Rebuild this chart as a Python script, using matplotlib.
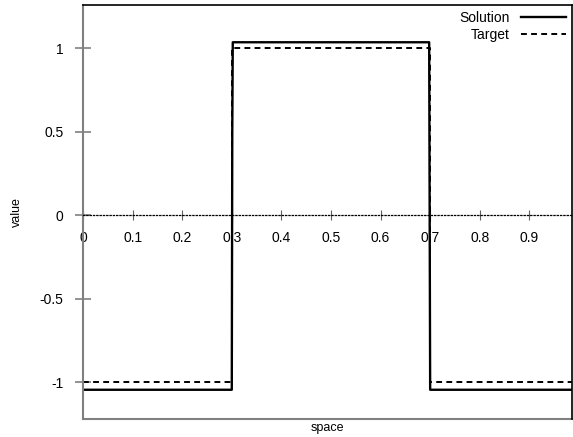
import matplotlib
matplotlib.use("Agg")
import matplotlib.pyplot as plt

plt.rcParams['font.family'] = ['Liberation Sans', 'DejaVu Sans']

# datos
sol_x = [0.0, 0.300, 0.301, 0.302, 0.698, 0.699, 0.700, 0.99]
sol_y = [-1.045, -1.045, 0.5, 1.035, 1.035, 0.0, -1.045, -1.045]
tgt_x = [0.0, 0.30, 0.30, 0.70, 0.70, 0.99]
tgt_y = [-1.0, -1.0, 1.0, 1.0, -1.0, -1.0]
xticks = [0, 0.1, 0.2, 0.3, 0.4, 0.5, 0.6, 0.7, 0.8, 0.9]
xticklabels = ['0', '0.1', '0.2', '0.3', '0.4', '0.5', '0.6', '0.7', '0.8', '0.9']
yticks = [-1, -0.5, 0, 0.5, 1]
yticklabels = ['-1', '-0.5', '0', '0.5', '1']

fig = plt.figure(figsize=(5.73, 4.37), dpi=100)
ax = fig.add_axes([83 / 573, 18 / 437, 489 / 573, 414 / 437])

ax.plot(tgt_x, tgt_y, color='black', lw=1.4, dashes=(3, 2.2), label='Target')
ax.plot(sol_x, sol_y, color='black', lw=1.7, label='Solution')

ax.set_xlim(0, 0.986)
ax.set_ylim(-1.22, 1.258)

# eje x sobre el cero, punteado
ax.spines['bottom'].set_position(('data', 0))
ax.spines['bottom'].set_linestyle(':')
ax.spines['bottom'].set_linewidth(0.9)
ax.spines['bottom'].set_color('black')
ax.plot([0, 1], [0, 0], transform=ax.transAxes, color='#808080', lw=1.5, clip_on=False)
ax.spines['left'].set_color('#808080')
ax.spines['left'].set_linewidth(1.5)
ax.spines['top'].set_linewidth(1.2)
ax.spines['right'].set_linewidth(1.2)

ax.set_xticks(xticks)
ax.set_xticklabels(xticklabels)
ax.set_yticks(yticks)
ax.set_yticklabels(yticklabels)
ax.tick_params(axis='x', direction='inout', length=7, width=0.8, color='#606060',
               labelsize=10, pad=8)
ax.tick_params(axis='y', direction='inout', length=12, width=1.2, color='#808080',
               labelsize=10, pad=8)

ax.text(0.5, -0.008, 'space', transform=ax.transAxes, ha='center', va='top', fontsize=9)
ax.text(-0.135, 0.5, 'value', transform=ax.transAxes, ha='center', va='center',
        rotation=90, fontsize=9)

handles, labels = ax.get_legend_handles_labels()
ax.legend(handles[::-1], labels[::-1], loc='upper right', frameon=False,
          markerfirst=False, fontsize=10, handlelength=3.3, labelspacing=0.25,
          borderaxespad=0.1, borderpad=0.3)

fig.savefig('out.png', dpi=100)
